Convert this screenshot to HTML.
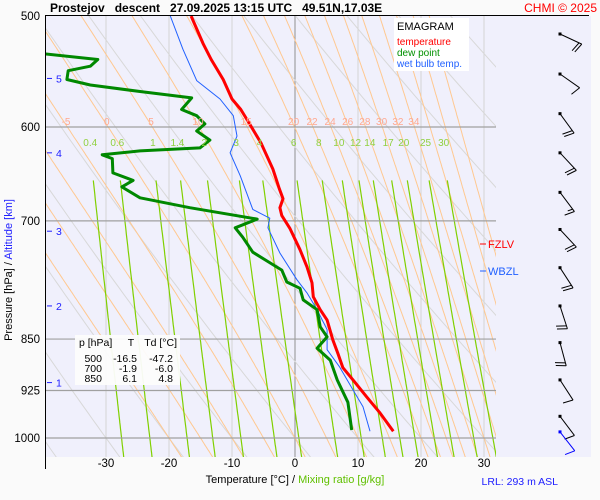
<!DOCTYPE html>
<html><head><meta charset="utf-8"><style>
body{margin:0;background:#fafafa;}
svg{display:block;font-family:"Liberation Sans",sans-serif;}
</style></head><body>
<svg id="chart" width="600" height="500" viewBox="0 0 600 500" xmlns="http://www.w3.org/2000/svg">
<rect x="0" y="0" width="600" height="500" fill="#fafafa"/>
<rect x="46" y="16" width="545" height="441" fill="#f0f0fc"/>
<defs><clipPath id="pc"><rect x="46" y="16" width="450" height="441"/></clipPath></defs>
<g id="bg" clip-path="url(#pc)"></g>
<g id="grid"></g>
<g id="series" clip-path="url(#pc)"></g>
<g id="labels"></g>
<g id="barbs"></g>
<line x1="45.5" y1="15" x2="45.5" y2="469" stroke="#000" stroke-width="1"/>
<line x1="46" y1="15.5" x2="589" y2="15.5" stroke="#000" stroke-width="1"/>
<text x="50" y="12" font-size="12" font-weight="bold" fill="#000" xml:space="preserve">Prostejov   descent   27.09.2025 13:15 UTC   49.51N,17.03E</text>
<text x="597" y="12" font-size="12" fill="#ff0000" text-anchor="end">CHMI © 2025</text>
<g>
<rect x="394" y="18" width="75" height="53" fill="#ffffff"/>
<text x="397" y="30" font-size="11" fill="#000">EMAGRAM</text>
<text x="397" y="45" font-size="10" fill="#ff0000">temperature</text>
<text x="397" y="56" font-size="10" fill="#009000">dew point</text>
<text x="397" y="67" font-size="10" fill="#2060ff">wet bulb temp.</text>
</g>
<g font-size="10.5" fill="#000">
<rect x="75" y="335" width="105" height="50" fill="#fcfcfc" opacity="0.95"/>
<text x="79" y="346">p [hPa]</text><text x="131" y="346" text-anchor="middle">T</text><text x="177" y="346" text-anchor="end">Td [°C]</text>
<text x="102" y="362" text-anchor="end">500</text><text x="137" y="362" text-anchor="end">-16.5</text><text x="173" y="362" text-anchor="end">-47.2</text>
<text x="102" y="372" text-anchor="end">700</text><text x="137" y="372" text-anchor="end">-1.9</text><text x="173" y="372" text-anchor="end">-6.0</text>
<text x="102" y="382" text-anchor="end">850</text><text x="137" y="382" text-anchor="end">6.1</text><text x="173" y="382" text-anchor="end">4.8</text>
</g>
<text transform="translate(12,270) rotate(-90)" font-size="11" text-anchor="middle"><tspan fill="#000">Pressure [hPa]  /  </tspan><tspan fill="#2020ff">Altitude [km]</tspan></text>
<text x="295" y="483" font-size="11" text-anchor="middle"><tspan fill="#000">Temperature [°C]  /  </tspan><tspan fill="#60c000">Mixing ratio [g/kg]</tspan></text>
<text x="558" y="485" font-size="10.5" fill="#2020ff" text-anchor="end">LRL: 293 m ASL</text>
<g><line x1="480" y1="244" x2="486" y2="244" stroke="#ff0000"/><text x="488" y="248" font-size="11" fill="#ff0000">FZLV</text></g>
<g><line x1="480" y1="271" x2="486" y2="271" stroke="#2060ff"/><text x="488" y="275" font-size="11" fill="#2060ff">WBZL</text></g>
</svg>
<script>
const tempP=[500,523,537,555,573,583,596,616,643,664,675,685,694,709,734,755,775,793,810,824,851,870,891,909,935,960,989];
const tempT=[-16.5,-14.6,-13.3,-11.4,-10.0,-8.6,-7.3,-5.4,-3.5,-2.5,-1.9,-2.4,-2.1,-0.8,0.8,1.9,2.7,2.9,4.0,5.1,6.0,6.8,7.6,9.2,11.4,13.5,15.6];
const dewP=[532,537,543,547,555,560,566,572,583,589,597,604,613,621,624,628,632,647,655,662,674,685,698,708,719,737,746,759,774,782,797,810,833,847,863,880,909,943,987];
const dewT=[-39.8,-31.3,-32.5,-36.0,-36.2,-32.5,-24.6,-16.4,-18.0,-15.6,-14.3,-15.6,-13.5,-15.1,-24.6,-30.6,-29.0,-28.9,-25.7,-27.5,-24.6,-16.7,-6.0,-9.5,-8.3,-6.7,-4.8,-2.1,-1.3,0.8,1.3,3.5,4.0,5.1,3.5,5.6,6.7,8.4,9.0];
const wbP=[500,528,556,573,589,609,626,650,687,697,708,738,771,788,810,837,865,890,924,950,989];
const wbT=[-19.8,-17.8,-15.6,-11.9,-9.8,-9.2,-10.3,-8.7,-6.7,-4.0,-4.3,-2.4,0.3,1.9,3.5,5.1,5.1,7.1,9.2,10.8,11.9];
const pressTicks=[500,600,700,850,925,1000];
const tempTicks=[-30,-20,-10,0,10,20,30];
const altKm=[5,4,3,2,1];
const altP=[554,626,712,805,913];
const mixRatios=[0.4,0.6,1,1.4,2,3,4,6,8,10,12,14,17,20,25,30];
const moistLabels=[-5,0,5,10,15,20,22,24,26,28,30,32,34];
const moistExtra=[-20,-15,-10,36,38,40];
const windP=[515,550,587,626,668,710,756,805,855,909,965];
const windDir=[115,125,144,137,143,137,147,162,165,147,143];
const windSpd=[20,10,20,20,15,20,20,20,20,10,10];
const surfDir=142, surfSpd=10, surfP=990;

const NS='http://www.w3.org/2000/svg';
const xS=t=>295+6.3*t;
const yS=p=>16+422*Math.log2(p/500);
function mk(tag,attrs,parent){const e=document.createElementNS(NS,tag);for(const k in attrs)e.setAttribute(k,attrs[k]);parent.appendChild(e);return e;}
const bg=document.getElementById('bg'),grid=document.getElementById('grid'),ser=document.getElementById('series'),lab=document.getElementById('labels'),bar=document.getElementById('barbs');
function pathFrom(pts){return pts.map((q,i)=>(i?'L':'M')+q[0].toFixed(1)+' '+q[1].toFixed(1)).join(' ');}

for(let t=-40;t<=30;t+=10){const l=mk('line',{x1:xS(t),y1:16,x2:xS(t),y2:457,stroke:t===0?'#909090':'#d4d4d4','stroke-width':1},bg);

}
for(let k=-12;k<=12;k++){const th=273.15+10*k;const pts=[];for(let p=470;p<=1050;p+=10){pts.push([xS(th*Math.pow(p/1000,0.286)-273.15),yS(p)]);}
const e=mk('path',{d:pathFrom(pts),fill:'none',stroke:'#d8d8d8','stroke-width':1},bg);

}
function es(T){return 6.112*Math.exp(17.67*T/(T+243.5));}
function moist(tw){let T;const Rd=287,cp=1005,L=2.5e6,eps=0.622;
 function step(p,dp){const rs=eps*es(T-273.15)/(p-es(T-273.15));const dTdp=(Rd*T+L*rs)/(p*(cp+L*L*rs*eps/(Rd*T*T)));T+=dTdp*dp;}
 const up=[];T=tw+273.15;for(let p=1000;p>=470;p-=2){up.push([p,T-273.15]);step(p,-2);}
 const dn=[];T=tw+273.15;for(let p=1000;p<=1050;p+=2){dn.push([p,T-273.15]);step(p,2);}
 return dn.reverse().concat(up);}
moistLabels.concat(moistExtra).forEach(tw=>{const pr=moist(tw);const e=mk('path',{d:pathFrom(pr.map(q=>[xS(q[1]),yS(q[0])])),fill:'none',stroke:'#ffc890','stroke-width':1},bg);


if(moistLabels.includes(tw)){const q=pr.find(v=>v[0]<=598);const t=mk('text',{x:xS(q[1]),y:125,'font-size':10,fill:'#ffa890','text-anchor':'middle'},lab);t.textContent=tw;

}});
function tdw(w,p){const e=w*p/(622+w);const a=Math.log(e/6.112);return 243.5*a/(17.67-a);}
mixRatios.forEach(w=>{const pts=[];for(let p=655;p<=1050;p+=5)pts.push([xS(tdw(w,p)),yS(p)]);
const e=mk('path',{d:pathFrom(pts),fill:'none',stroke:'#80d000','stroke-width':1.2},bg);


const t=mk('text',{x:xS(tdw(w,645))-2,y:146,'font-size':10,fill:'#90d040','text-anchor':'middle'},lab);t.textContent=w;

});
pressTicks.forEach(p=>{if(p>500){const l=mk('line',{x1:46,y1:yS(p),x2:496,y2:yS(p),stroke:'#a0a0a0','stroke-width':1.2},grid);

}
const t=mk('text',{x:40,y:yS(p)+4,'font-size':11.5,fill:'#000','text-anchor':'end'},lab);t.textContent=p;

});
tempTicks.forEach(v=>{const t=mk('text',{x:xS(v),y:467,'font-size':11.5,fill:'#000','text-anchor':'middle'},lab);t.textContent=v;

});
altKm.forEach((k,i)=>{const y=yS(altP[i]);const l=mk('line',{x1:47,y1:y,x2:52,y2:y,stroke:'#2020ff','stroke-width':1},lab);


const t=mk('text',{x:56,y:y+4,'font-size':10.5,fill:'#2020ff'},lab);t.textContent=k;

});
function prof(P,T,col,w,name){const e=mk('path',{d:pathFrom(P.map((p,i)=>[xS(T[i]),yS(p)])),fill:'none',stroke:col,'stroke-width':w,'stroke-linejoin':'round'},ser);

}
prof(wbP,wbT,'#2060ff',1,'wet-bulb-line');
prof(dewP,dewT,'#008800',3,'dew-point-line');
prof(tempP,tempT,'#ff0000',3,'temperature-line');
function barb(p,dir,spd,col){const x0=560,y0=yS(p);const a=dir*Math.PI/180;const dx=Math.sin(a),dy=-Math.cos(a);const Ls=24;
const g=mk('g',{},bar);


mk('rect',{x:x0-1.5,y:y0-1.5,width:3,height:3,fill:col},g);
mk('line',{x1:x0,y1:y0,x2:x0+dx*Ls,y2:y0+dy*Ls,stroke:col,'stroke-width':1},g);
const fx=-dy,fy=dx;let n=Math.floor(spd/10),half=(spd%10)>=5;let pos=Ls;
for(let i=0;i<n;i++){const bx=x0+dx*pos,by=y0+dy*pos;mk('line',{x1:bx,y1:by,x2:bx+fx*10-dx*3,y2:by+fy*10-dy*3,stroke:col,'stroke-width':1},g);pos-=3;}
if(half){const bx=x0+dx*pos,by=y0+dy*pos;mk('line',{x1:bx,y1:by,x2:bx+fx*5-dx*1.5,y2:by+fy*5-dy*1.5,stroke:col,'stroke-width':1},g);}}
windP.forEach((p,i)=>barb(p,windDir[i],windSpd[i],'#000'));
barb(surfP,surfDir,surfSpd,'#0000ff');
</script>
</body></html>
